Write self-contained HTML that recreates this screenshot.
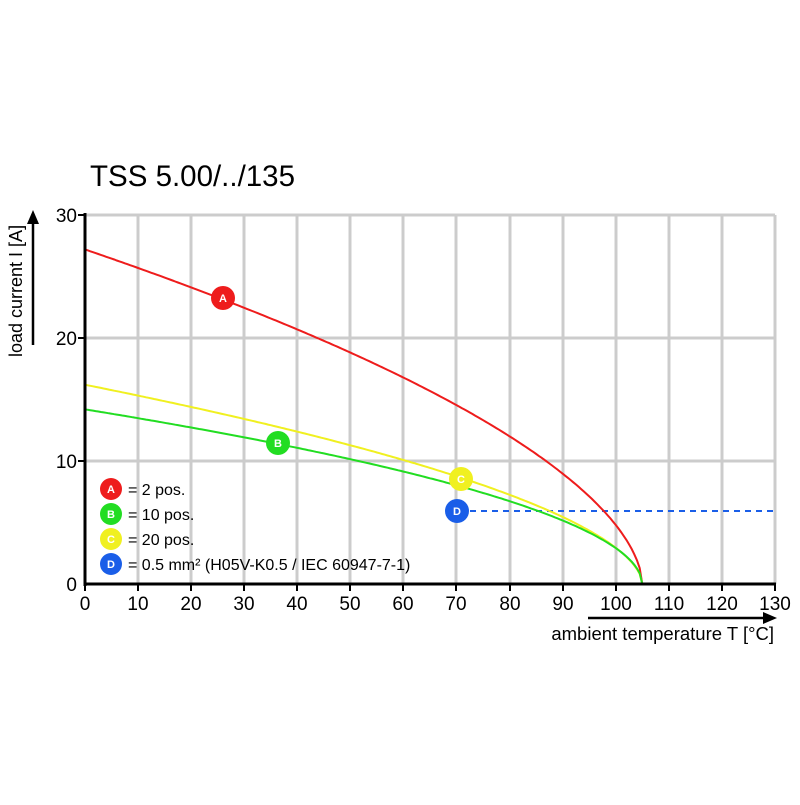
<!DOCTYPE html>
<html><head><style>body{margin:0;background:#fff}</style></head><body>
<svg id="s" width="800" height="800" xmlns="http://www.w3.org/2000/svg" font-family="Liberation Sans, sans-serif">
<rect width="800" height="800" fill="#fff"/>
<text x="90" y="186" font-size="29.5">TSS 5.00/../135</text>
<g stroke="#ccc" stroke-width="3">
<line x1="138" y1="215" x2="138" y2="584"/><line x1="191" y1="215" x2="191" y2="584"/><line x1="244" y1="215" x2="244" y2="584"/><line x1="297" y1="215" x2="297" y2="584"/><line x1="350" y1="215" x2="350" y2="584"/><line x1="403" y1="215" x2="403" y2="584"/><line x1="456" y1="215" x2="456" y2="584"/><line x1="510" y1="215" x2="510" y2="584"/><line x1="563" y1="215" x2="563" y2="584"/><line x1="616" y1="215" x2="616" y2="584"/><line x1="669" y1="215" x2="669" y2="584"/><line x1="722" y1="215" x2="722" y2="584"/><line x1="775" y1="215" x2="775" y2="584"/>
<line x1="85" y1="215" x2="775" y2="215"/><line x1="85" y1="338" x2="775" y2="338"/><line x1="85" y1="461" x2="775" y2="461"/>
</g>
<line x1="470" y1="511" x2="775" y2="511" stroke="#1a5ee8" stroke-width="2" stroke-dasharray="6,5"/>
<g fill="none" stroke-width="2">
<polyline id="pr" stroke="#ee1c1c"/>
<polyline id="py" stroke="#f0f020"/>
<polyline id="pg" stroke="#22dd22"/>
</g>
<script>
function f(id,i0,p){var s=[];for(var t=0;t<=105;t+=0.5){var v=i0*Math.pow(Math.max(0,1-t/105),p);s.push((85+t*5.3077).toFixed(1)+","+(584-v*12.3).toFixed(1));}document.getElementById(id).setAttribute("points",s.join(" "));}
f("pr",27.2,0.57);f("py",16.2,0.56);f("pg",14.2,0.52);
</script>
<g stroke="#000" stroke-width="3">
<line x1="85" y1="213" x2="85" y2="586"/><line x1="84" y1="584" x2="776" y2="584"/>
</g>
<g stroke="#000" stroke-width="2">
<line x1="78" y1="215" x2="85" y2="215"/><line x1="78" y1="338" x2="85" y2="338"/><line x1="78" y1="461" x2="85" y2="461"/>
<line x1="85" y1="584" x2="85" y2="591"/><line x1="138" y1="584" x2="138" y2="591"/><line x1="191" y1="584" x2="191" y2="591"/><line x1="244" y1="584" x2="244" y2="591"/><line x1="297" y1="584" x2="297" y2="591"/><line x1="350" y1="584" x2="350" y2="591"/><line x1="403" y1="584" x2="403" y2="591"/><line x1="456" y1="584" x2="456" y2="591"/><line x1="510" y1="584" x2="510" y2="591"/><line x1="563" y1="584" x2="563" y2="591"/><line x1="616" y1="584" x2="616" y2="591"/><line x1="669" y1="584" x2="669" y2="591"/><line x1="722" y1="584" x2="722" y2="591"/><line x1="775" y1="584" x2="775" y2="591"/>
</g>
<g font-size="19" text-anchor="end">
<text x="77" y="222">30</text><text x="77" y="345">20</text><text x="77" y="468">10</text><text x="77" y="591">0</text>
</g>
<g font-size="19" text-anchor="middle">
<text x="85" y="610">0</text><text x="138" y="610">10</text><text x="191" y="610">20</text><text x="244" y="610">30</text><text x="297" y="610">40</text><text x="350" y="610">50</text><text x="403" y="610">60</text><text x="456" y="610">70</text><text x="510" y="610">80</text><text x="563" y="610">90</text><text x="616" y="610">100</text><text x="669" y="610">110</text><text x="722" y="610">120</text><text x="775" y="610">130</text>
</g>
<text x="774" y="640" font-size="18.5" text-anchor="end">ambient temperature T [°C]</text>
<line x1="588" y1="618" x2="765" y2="618" stroke="#000" stroke-width="2.5"/><polygon points="777,618 763,612 763,624" fill="#000"/>
<text transform="translate(22,357) rotate(-90)" font-size="18">load current I [A]</text>
<line x1="33" y1="345" x2="33" y2="222" stroke="#000" stroke-width="2.5"/><polygon points="33,210 27,224 39,224" fill="#000"/>
<g font-size="11" font-weight="bold" fill="#fff" text-anchor="middle">
<circle cx="223" cy="298" r="12" fill="#ee1c1c"/><text x="223" y="302">A</text>
<circle cx="278" cy="443" r="12" fill="#22dd22"/><text x="278" y="447">B</text>
<circle cx="461" cy="479" r="12" fill="#f0f020"/><text x="461" y="483">C</text>
<circle cx="457" cy="511" r="12" fill="#1a5ee8"/><text x="457" y="515">D</text>
<circle cx="111" cy="489" r="11" fill="#ee1c1c"/><text x="111" y="493">A</text>
<circle cx="111" cy="514" r="11" fill="#22dd22"/><text x="111" y="518">B</text>
<circle cx="111" cy="539" r="11" fill="#f0f020"/><text x="111" y="543">C</text>
<circle cx="111" cy="564" r="11" fill="#1a5ee8"/><text x="111" y="568">D</text>
</g>
<g font-size="16">
<text x="128" y="495">= 2 pos.</text><text x="128" y="520">= 10 pos.</text><text x="128" y="545">= 20 pos.</text><text x="128" y="570">= 0.5 mm² (H05V-K0.5 / IEC 60947-7-1)</text>
</g>
</svg>
</body></html>
